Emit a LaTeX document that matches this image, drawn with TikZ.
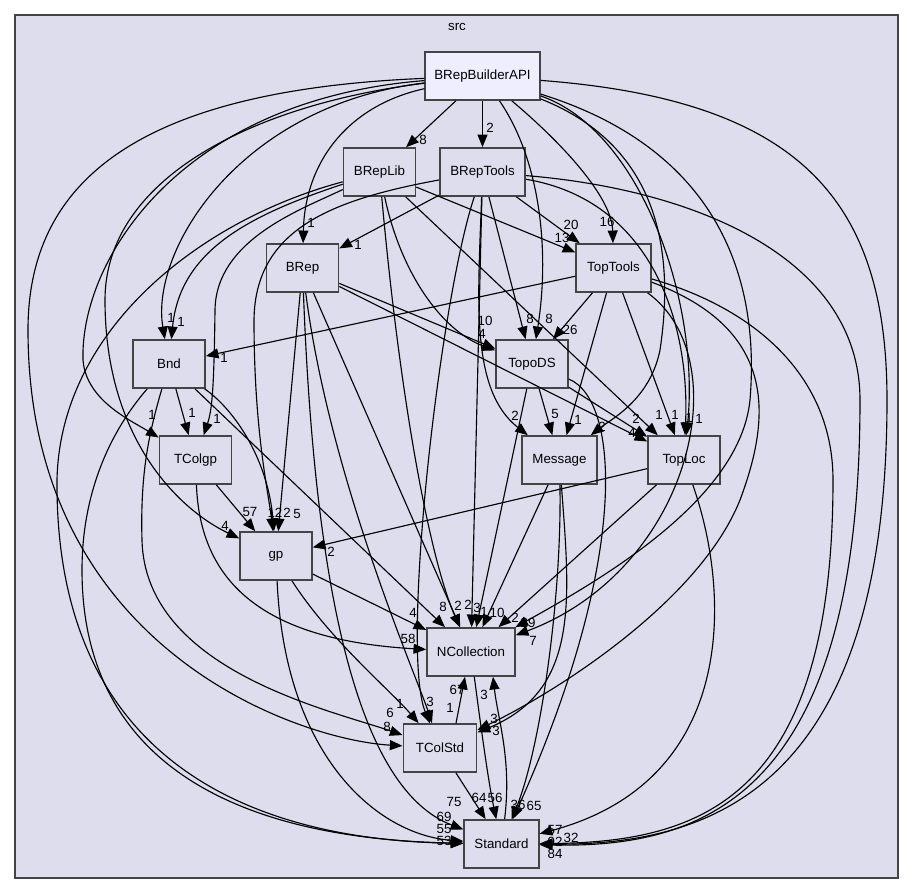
\documentclass[tikz,border=0pt]{standalone}
\usepackage{fontspec}
\setmainfont{Liberation Sans}
\usetikzlibrary{arrows.meta,calc}
\definecolor{clusterbg}{HTML}{DDDDEE}
\definecolor{apibg}{HTML}{EEEEFF}
\definecolor{boxline}{HTML}{444444}
\begin{document}
\begin{tikzpicture}[x=0.75pt,y=-0.75pt,font=\fontsize{10}{12}\selectfont,
  dir/.style={draw=boxline,line width=1.2pt,fill=clusterbg,minimum width=54pt,minimum height=36pt,inner sep=0pt},
  dep/.style={-{Triangle[length=9.5pt,width=7.5pt]},line width=0.85pt},
  num/.style={inner sep=0pt}]
\useasboundingbox (0,0) rectangle (915,895);
\draw[draw=boxline,line width=1.1pt,fill=clusterbg] (15,15) rectangle (898,878);
\node (srclbl) at (457,27) {src};
% directories
\node[dir,fill=apibg,minimum width=86pt] (api) at (482.5,76) {BRepBuilderAPI};
\node[dir] (replib) at (379.5,172) {BRepLib};
\node[dir,minimum width=64pt] (reptools) at (482.5,172) {BRepTools};
\node[dir] (brep) at (302.5,268) {BRep};
\node[dir,minimum width=56pt] (toptools) at (613.5,268) {TopTools};
\node[dir] (bnd) at (169,364) {Bnd};
\node[dir] (topods) at (532,364) {TopoDS};
\node[dir] (tcolgp) at (195.5,460) {TColgp};
\node[dir,minimum width=56pt] (message) at (559.5,460) {Message};
\node[dir] (toploc) at (684,460) {TopLoc};
\node[dir] (gp) at (276,556) {gp};
\node[dir,minimum width=66pt] (ncoll) at (471,652) {NCollection};
\node[dir,minimum width=55pt] (tcolstd) at (440,748) {TColStd};
\node[dir,minimum width=56pt] (standard) at (501.5,844) {Standard};
% BRepBuilderAPI
\draw[dep] (api) -- (replib);
\draw[dep] (api) -- (reptools);
\draw[dep] (api) .. controls (350,105) and (305,160) .. (brep);
\draw[dep] (api) .. controls (570,150) and (612,200) .. (toptools);
\draw[dep] (api) .. controls (240,105) and (150,250) .. (bnd);
\draw[dep] (api) .. controls (540,160) and (550,250) .. (topods);
\draw[dep] (api) .. controls (180,100) and (80,260) .. (83,360) .. controls (86,400) and (130,420) .. (tcolgp);
\draw[dep] (api) .. controls (250,105) and (105,180) .. (105,300) .. controls (105,440) and (180,510) .. (gp);
\draw[dep] (api) .. controls (670,150) and (672,270) .. (660,350) .. controls (650,400) and (610,420) .. (message);
\draw[dep] (api) .. controls (640,130) and (700,300) .. (toploc);
\draw[dep] (api) .. controls (720,150) and (760,280) .. (750,400) .. controls (740,500) and (600,580) .. (ncoll);
\draw[dep] (api) .. controls (140,90) and (28,180) .. (28,330) .. controls (28,650) and (300,740) .. (tcolstd);
\draw[dep] (api) .. controls (800,100) and (887,200) .. (887,400) .. controls (887,800) and (700,845) .. (standard);
% BRepLib
\draw[dep] (replib) -- (toptools);
\draw[dep] (replib) .. controls (250,215) and (180,250) .. (bnd);
\draw[dep] (replib) .. controls (400,270) and (440,330) .. (topods);
\draw[dep] (replib) .. controls (300,210) and (216,240) .. (215,310) .. controls (214,390) and (212,410) .. (tcolgp);
\draw[dep] (replib) -- (toploc);
\draw[dep] (replib) .. controls (400,400) and (430,560) .. (ncoll);
\draw[dep] (replib) .. controls (200,220) and (60,330) .. (57,480) .. controls (55,760) and (250,840) .. (standard);
% BRepTools
\draw[dep] (reptools) -- (brep);
\draw[dep] (reptools) -- (toptools);
\draw[dep] (reptools) -- (topods);
\draw[dep] (reptools) .. controls (330,200) and (255,230) .. (254,320) .. controls (254,430) and (268,490) .. (gp);
\draw[dep] (reptools) .. controls (478,300) and (470,390) .. (message);
\draw[dep] (reptools) .. controls (650,200) and (690,320) .. (toploc);
\draw[dep] (reptools) -- (ncoll);
\draw[dep] (reptools) .. controls (440,300) and (400,650) .. (tcolstd);
\draw[dep] (reptools) .. controls (700,190) and (860,260) .. (860,400) .. controls (860,800) and (700,848) .. (standard);
% BRep
\draw[dep] (brep) -- (topods);
\draw[dep] (brep) -- (toploc);
\draw[dep] (brep) -- (gp);
\draw[dep] (brep) -- (ncoll);
\draw[dep] (brep) .. controls (330,480) and (418,680) .. (tcolstd);
\draw[dep] (brep) .. controls (315,600) and (360,790) .. (standard);
% TopTools
\draw[dep] (toptools) -- (bnd);
\draw[dep] (toptools) -- (topods);
\draw[dep] (toptools) -- (message);
\draw[dep] (toptools) -- (toploc);
\draw[dep] (toptools) .. controls (740,360) and (690,570) .. (ncoll);
\draw[dep] (toptools) .. controls (780,330) and (770,420) .. (740,500) .. controls (700,600) and (560,690) .. (tcolstd);
\draw[dep] (toptools) .. controls (760,310) and (833,380) .. (833,480) .. controls (833,800) and (700,842) .. (standard);
% Bnd
\draw[dep] (bnd) -- (tcolgp);
\draw[dep] (bnd) .. controls (235,410) and (268,460) .. (gp);
\draw[dep] (bnd) -- (ncoll);
\draw[dep] (bnd) .. controls (150,430) and (140,470) .. (142,540) .. controls (145,670) and (330,710) .. (tcolstd);
\draw[dep] (bnd) .. controls (120,420) and (82,480) .. (82,570) .. controls (82,800) and (300,840) .. (standard);
% TopoDS
\draw[dep] (topods) -- (message);
\draw[dep] (topods) -- (toploc);
\draw[dep] (topods) -- (ncoll);
\draw[dep] (topods) .. controls (620,400) and (630,560) .. (standard);
% TColgp
\draw[dep] (tcolgp) -- (gp);
\draw[dep] (tcolgp) .. controls (200,580) and (260,640) .. (ncoll);
% Message
\draw[dep] (message) -- (ncoll);
\draw[dep] (message) .. controls (570,600) and (580,690) .. (tcolstd);
\draw[dep] (message) .. controls (562,600) and (540,750) .. (standard);
% TopLoc
\draw[dep] (toploc) -- (gp);
\draw[dep] (toploc) -- (ncoll);
\draw[dep] (toploc) .. controls (730,590) and (740,780) .. (standard);
% gp
\draw[dep] (gp) -- (ncoll);
\draw[dep] (gp) .. controls (330,640) and (390,690) .. (tcolstd);
\draw[dep] (gp) .. controls (285,760) and (380,835) .. (standard);
% NCollection, TColStd, Standard
\draw[dep] (ncoll) .. controls (480,720) and (488,780) .. (standard);
\draw[dep] ($(tcolstd.north)+(16,0)$) -- ($(ncoll.south)+(-6,0)$);
\draw[dep] (tcolstd) -- (standard);
\draw[dep] (standard) .. controls (512,760) and (498,720) .. ($(ncoll.south)+(22,0)$);
% counts
\foreach \t/\x/\y [count=\k] in {8/423/140,2/490/128,1/311/223,1/358/245,20/571/225,16/607/222,13/562/238,
  1/171/318,1/181/322,1/224/358,10/485/321,4/482/334,8/530/319,8/549/319,26/570/330,
  1/152/415,1/192/413,1/217/419,2/515/416,5/555/414,1/578/420,2/602/427,
  2/636/419,4/632/433,1/659/415,1/675/415,1/689/418,1/699/419,
  4/225/526,57/250/512,12/275/513,2/287/513,5/297/514,2/331/552,
  4/413/613,58/408/639,8/443/607,2/458/606,2/468/605,3/477/608,1/484/612,10/497/613,2/515/618,29/528/623,7/533/641,
  1/400/704,3/430/702,1/450/708,67/457/690,3/484/695,6/390/713,8/387/727,3/494/719,3/496/731,
  75/454/802,64/479/798,56/495/798,36/518/805,65/534/806,69/444/817,55/444/829,53/444/841,
  57/555/830,92/555/842,32/571/838,84/555/854}
  \node[num] (cnt\k) at (\x,\y) {\t};
\end{tikzpicture}
\end{document}
